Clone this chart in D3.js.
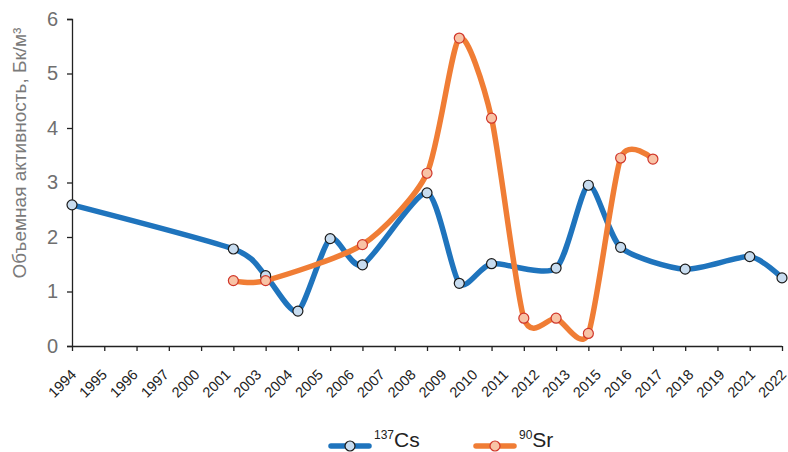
<!DOCTYPE html>
<html><head><meta charset="utf-8">
<script src="https://cdn.jsdelivr.net/npm/d3@7"></script>
<style>
body{margin:0;background:#fff;}
text{font-family:"Liberation Sans",Arial,sans-serif;}
</style></head>
<body><svg id="c" width="788" height="452"></svg>
<script>
// Category labels shown on the axis (24 labels)
const xLabels = ["1994","1995","1996","1997","2000","2001","2003","2004","2005","2006","2007","2008","2009","2010","2011","2012","2013","2015","2016","2017","2018","2019","2021","2022"];
// Data slots along the axis (23 tick positions)
const slotCount = 23;
const cs137 = [2.59,null,null,null,null,1.78,1.29,0.64,1.97,1.49,null,2.81,1.15,1.51,null,1.43,2.95,1.81,null,1.41,null,1.64,1.25];
const sr90  = [null,null,null,null,null,1.20,1.20,null,null,1.86,null,3.17,5.65,4.18,0.51,0.51,0.23,3.45,3.43,null,null,null,null];
const yTicks = [0,1,2,3,4,5,6];

const svg = d3.select("#c");
const L = 72, R = 782, T = 19, B = 346;
const x = d3.scalePoint().domain(d3.range(slotCount)).range([L, R]);
const xl = d3.scalePoint().domain(xLabels).range([L, R]);
const y = d3.scaleLinear().domain([0, 6]).range([B, T]);

// x axis: tick marks on the data slots
const gx = svg.append("g").attr("transform", `translate(0,${B})`)
  .call(d3.axisBottom(x).tickSize(5).tickFormat(""));
gx.select(".domain").attr("stroke", "#222").attr("stroke-width", 1.3).attr("d", `M${L-5},0.5H${R}`);
gx.selectAll(".tick line").attr("stroke", "#222").attr("stroke-width", 1.3);
// x labels
const gl = svg.append("g").attr("transform", `translate(0,${B})`)
  .call(d3.axisBottom(xl).tickSize(0).tickPadding(0));
gl.select(".domain").remove();
gl.selectAll(".tick text")
  .attr("font-size", 14.5).attr("fill", "#222")
  .attr("text-anchor", "end")
  .attr("dy", "0.35em")
  .attr("transform", "translate(1,26) rotate(-45)");

// y axis
const gy = svg.append("g").attr("transform", `translate(${L},0)`)
  .call(d3.axisLeft(y).tickValues(yTicks).tickSize(5).tickPadding(9).tickFormat(d3.format("d")));
gy.select(".domain").attr("stroke", "#222").attr("stroke-width", 1.3).attr("d", `M-5,${T}.5H0.5V${B}`);
gy.selectAll(".tick line").attr("stroke", "#222").attr("stroke-width", 1.3);
gy.selectAll(".tick text").attr("font-size", 20).attr("fill", "#6f6f6f");

// y title
svg.append("text")
  .attr("transform", "translate(26,153) rotate(-90)")
  .attr("text-anchor", "middle")
  .attr("font-size", 19).attr("fill", "#7a7a7a")
  .text("Объемная активность, Бк/м³");

const series = [
  {data: cs137, line: "#1f74bd", fill: "#c8dcef", stroke: "#1a1a1a"},
  {data: sr90,  line: "#f07d35", fill: "#f8c3a6", stroke: "#d0362a"}
];
const lineGen = d3.line().x(d => x(d.i)).y(d => y(d.v)).curve(d3.curveCardinal.tension(0.3));

series.forEach(s => {
  const pts = s.data.map((v, i) => ({i, v})).filter(d => d.v != null);
  svg.append("path").datum(pts).attr("d", lineGen)
    .attr("fill", "none").attr("stroke", s.line).attr("stroke-width", 5.5)
    .attr("stroke-linecap", "round").attr("stroke-linejoin", "round");
  s.pts = pts;
});
series.forEach(s => {
  svg.append("g").selectAll("circle").data(s.pts).join("circle")
    .attr("cx", d => x(d.i)).attr("cy", d => y(d.v)).attr("r", 5)
    .attr("fill", s.fill).attr("stroke", s.stroke).attr("stroke-width", 1.2);
});

// legend
const legend = [
  {sup: "137", name: "Cs", s: series[0], x0: 331},
  {sup: "90", name: "Sr", s: series[1], x0: 476}
];
legend.forEach(l => {
  const g = svg.append("g");
  g.append("line").attr("x1", l.x0).attr("x2", l.x0 + 38).attr("y1", 446).attr("y2", 446)
    .attr("stroke", l.s.line).attr("stroke-width", 5.5).attr("stroke-linecap", "round");
  g.append("circle").attr("cx", l.x0 + 19).attr("cy", 446).attr("r", 5)
    .attr("fill", l.s.fill).attr("stroke", l.s.stroke).attr("stroke-width", 1.2);
  const t = g.append("text").attr("x", l.x0 + 43).attr("y", 447).attr("fill", "#222");
  t.append("tspan").attr("font-size", 12).attr("dy", -8).text(l.sup);
  t.append("tspan").attr("font-size", 21).attr("dy", 8).text(l.name);
});
</script></body></html>
